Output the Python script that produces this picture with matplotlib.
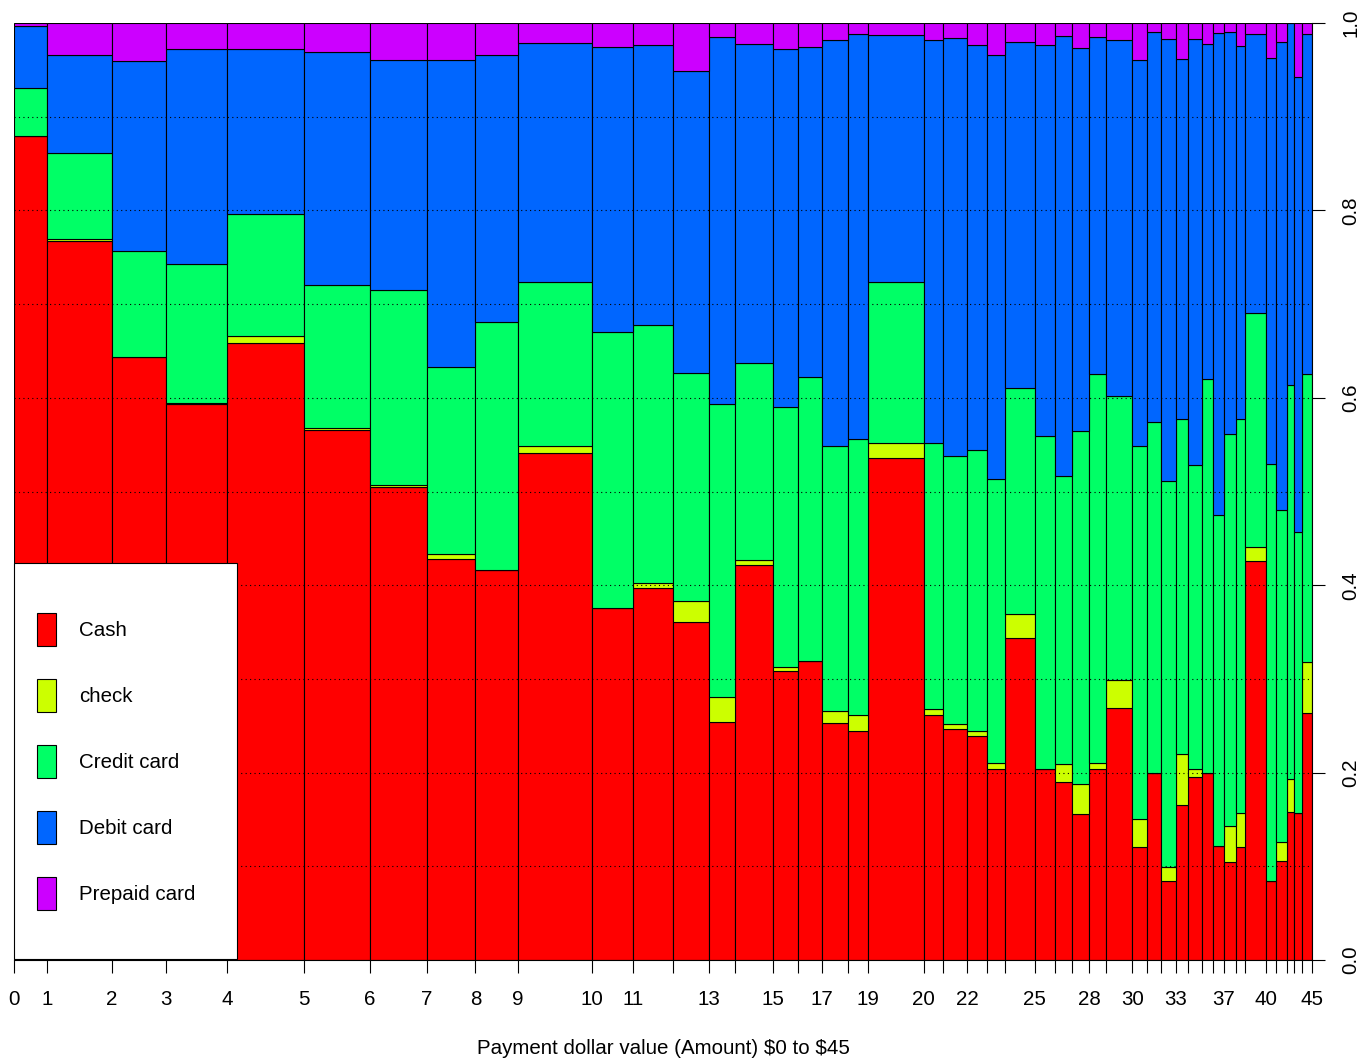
import numpy as np
import matplotlib.pyplot as plt
from matplotlib.patches import Rectangle

plt.rcParams['font.family'] = ['Liberation Sans', 'DejaVu Sans']
plt.rcParams['font.size'] = 14.8

# one-dollar bins, $0 to $45
breaks = list(range(0, 46))
shown_breaks = [0, 1, 2, 3, 4, 5, 6, 7, 8, 9, 10, 11, 13, 15, 17, 19,
                20, 22, 25, 28, 30, 33, 37, 40, 45]

# share of all payments in each bin (%)
bin_share = [2.54, 5.01, 4.16, 4.70, 5.93, 5.08, 4.39, 3.75, 3.24, 5.72,
             3.18, 3.08, 2.80, 1.95, 2.93, 1.98, 1.80, 2.03, 1.54, 4.29,
             1.52, 1.82, 1.56, 1.35, 2.29, 1.54, 1.35, 1.32, 1.29, 2.03,
             1.16, 1.06, 1.13, 0.96, 1.08, 0.83, 0.85, 0.90, 0.73, 1.60,
             0.77, 0.89, 0.48, 0.64, 0.77]

# payment method shares inside each bin
cash = [0.879, 0.767, 0.6435, 0.593, 0.6585, 0.566, 0.505, 0.428, 0.416, 0.541,
        0.3757, 0.3966, 0.361, 0.2543, 0.4216, 0.3084, 0.3188, 0.2525, 0.2444, 0.536,
        0.2615, 0.2465, 0.239, 0.2038, 0.3433, 0.2035, 0.1896, 0.1558, 0.2038, 0.2689,
        0.1206, 0.200, 0.0843, 0.1654, 0.1953, 0.200, 0.1217, 0.1049, 0.1206, 0.4255,
        0.0846, 0.106, 0.1575, 0.157, 0.2636]
check = [0.0, 0.003, 0.0, 0.0015, 0.0075, 0.002, 0.002, 0.005, 0.0, 0.0076,
         0.0, 0.0061, 0.0221, 0.0267, 0.0053, 0.0046, 0.0, 0.0135, 0.0171, 0.016,
         0.006, 0.0055, 0.0057, 0.0068, 0.0263, 0.0, 0.0196, 0.0324, 0.0068, 0.0299,
         0.0299, 0.0, 0.015, 0.0548, 0.0082, 0.0, 0.0, 0.0381, 0.0364, 0.0155,
         0.0, 0.0196, 0.0355, 0.0, 0.0548]
credit = [0.0516, 0.091, 0.1132, 0.1485, 0.130, 0.152, 0.208, 0.200, 0.265, 0.175,
          0.2943, 0.2753, 0.2429, 0.3124, 0.2106, 0.2768, 0.3037, 0.2829, 0.2949, 0.1716,
          0.2843, 0.286, 0.2996, 0.3024, 0.2412, 0.3557, 0.3069, 0.3764, 0.4148, 0.3034,
          0.3981, 0.3745, 0.4122, 0.3572, 0.3245, 0.420, 0.3528, 0.4187, 0.4207, 0.2495,
          0.4451, 0.355, 0.421, 0.300, 0.3073]
debit = [0.066, 0.105, 0.2023, 0.2296, 0.176, 0.2487, 0.2455, 0.327, 0.285, 0.2554,
         0.3044, 0.2985, 0.323, 0.392, 0.3405, 0.3825, 0.3522, 0.4333, 0.4315, 0.2633,
         0.4297, 0.4463, 0.4325, 0.453, 0.3692, 0.4173, 0.4697, 0.4084, 0.3596, 0.3793,
         0.4124, 0.4155, 0.4715, 0.3846, 0.455, 0.358, 0.5145, 0.4283, 0.3978, 0.2981,
         0.4329, 0.4994, 0.386, 0.485, 0.3623]
prepaid = [0.0034, 0.034, 0.041, 0.0274, 0.028, 0.0313, 0.0395, 0.040, 0.034, 0.021,
           0.0256, 0.0235, 0.051, 0.0146, 0.022, 0.0277, 0.0253, 0.0178, 0.0121, 0.0131,
           0.0185, 0.0157, 0.0232, 0.034, 0.020, 0.0235, 0.0142, 0.027, 0.015, 0.0185,
           0.039, 0.010, 0.017, 0.038, 0.017, 0.022, 0.011, 0.010, 0.0245, 0.0114,
           0.0374, 0.020, 0.0, 0.058, 0.012]

methods = ['Cash', 'check', 'Credit card', 'Debit card', 'Prepaid card']
colors = ['#FF0000', '#CCFF00', '#00FF66', '#0066FF', '#CC00FF']

shares = np.array([cash, check, credit, debit, prepaid])
shares = shares / shares.sum(axis=0)

widths = np.array(bin_share) / sum(bin_share)
lefts = np.concatenate([[0], np.cumsum(widths)[:-1]])
edges = np.concatenate([[0], np.cumsum(widths)])

fig = plt.figure(figsize=(13.66, 10.61), dpi=100)
ax = fig.add_axes([14 / 1366, 1 - 960 / 1061, 1298 / 1366, 937 / 1061])

bottom = np.zeros(len(widths))
for vals, col in zip(shares, colors):
    ax.bar(lefts, vals, width=widths, bottom=bottom, align='edge',
           color=col, edgecolor='black', linewidth=0.8, zorder=2)
    bottom += vals

for yv in np.arange(0.1, 1.0, 0.1):
    ax.axhline(yv, color='black', linestyle=(0, (1, 3)), linewidth=0.8, zorder=3)

ax.set_xlim(0, 1)
ax.set_ylim(0, 1)
ax.spines['top'].set_visible(False)
ax.spines['left'].set_visible(False)
for s in ('bottom', 'right'):
    ax.spines[s].set_linewidth(0.8)
    ax.spines[s].set_zorder(4)

ax.set_xticks(edges)
ax.set_xticklabels([str(b) if b in shown_breaks else '' for b in breaks])
ax.tick_params(axis='x', length=9, width=0.8, pad=12.5)

ax.yaxis.tick_right()
ax.set_yticks(np.arange(0, 1.01, 0.2))
ax.set_yticklabels(['%.1f' % v for v in np.arange(0, 1.01, 0.2)],
                   rotation=90, va='center')
ax.tick_params(axis='y', length=9, width=0.8, pad=12)

ax.set_xlabel(r'Payment dollar value (Amount) \$0 to \$45', labelpad=22)

# legend box in the lower left corner
box_w, box_h = 223 / 1298, 396 / 937
ax.add_patch(Rectangle((0, 0.001), box_w, box_h, transform=ax.transAxes,
                       facecolor='white', edgecolor='black', linewidth=0.8,
                       zorder=5, clip_on=False))
key_x, key_w, key_h = 23 / 1298, 19 / 1298, 33 / 937
for i, (name, col) in enumerate(zip(methods, colors)):
    yc = (960 - 629.3 - 66 * i) / 937
    ax.add_patch(Rectangle((key_x, yc - key_h / 2), key_w, key_h,
                           transform=ax.transAxes, facecolor=col,
                           edgecolor='black', linewidth=0.8, zorder=6))
    ax.text(65 / 1298, yc - 0.0015, name, transform=ax.transAxes, va='center',
            ha='left', zorder=6)

fig.savefig('out.png', dpi=100)
